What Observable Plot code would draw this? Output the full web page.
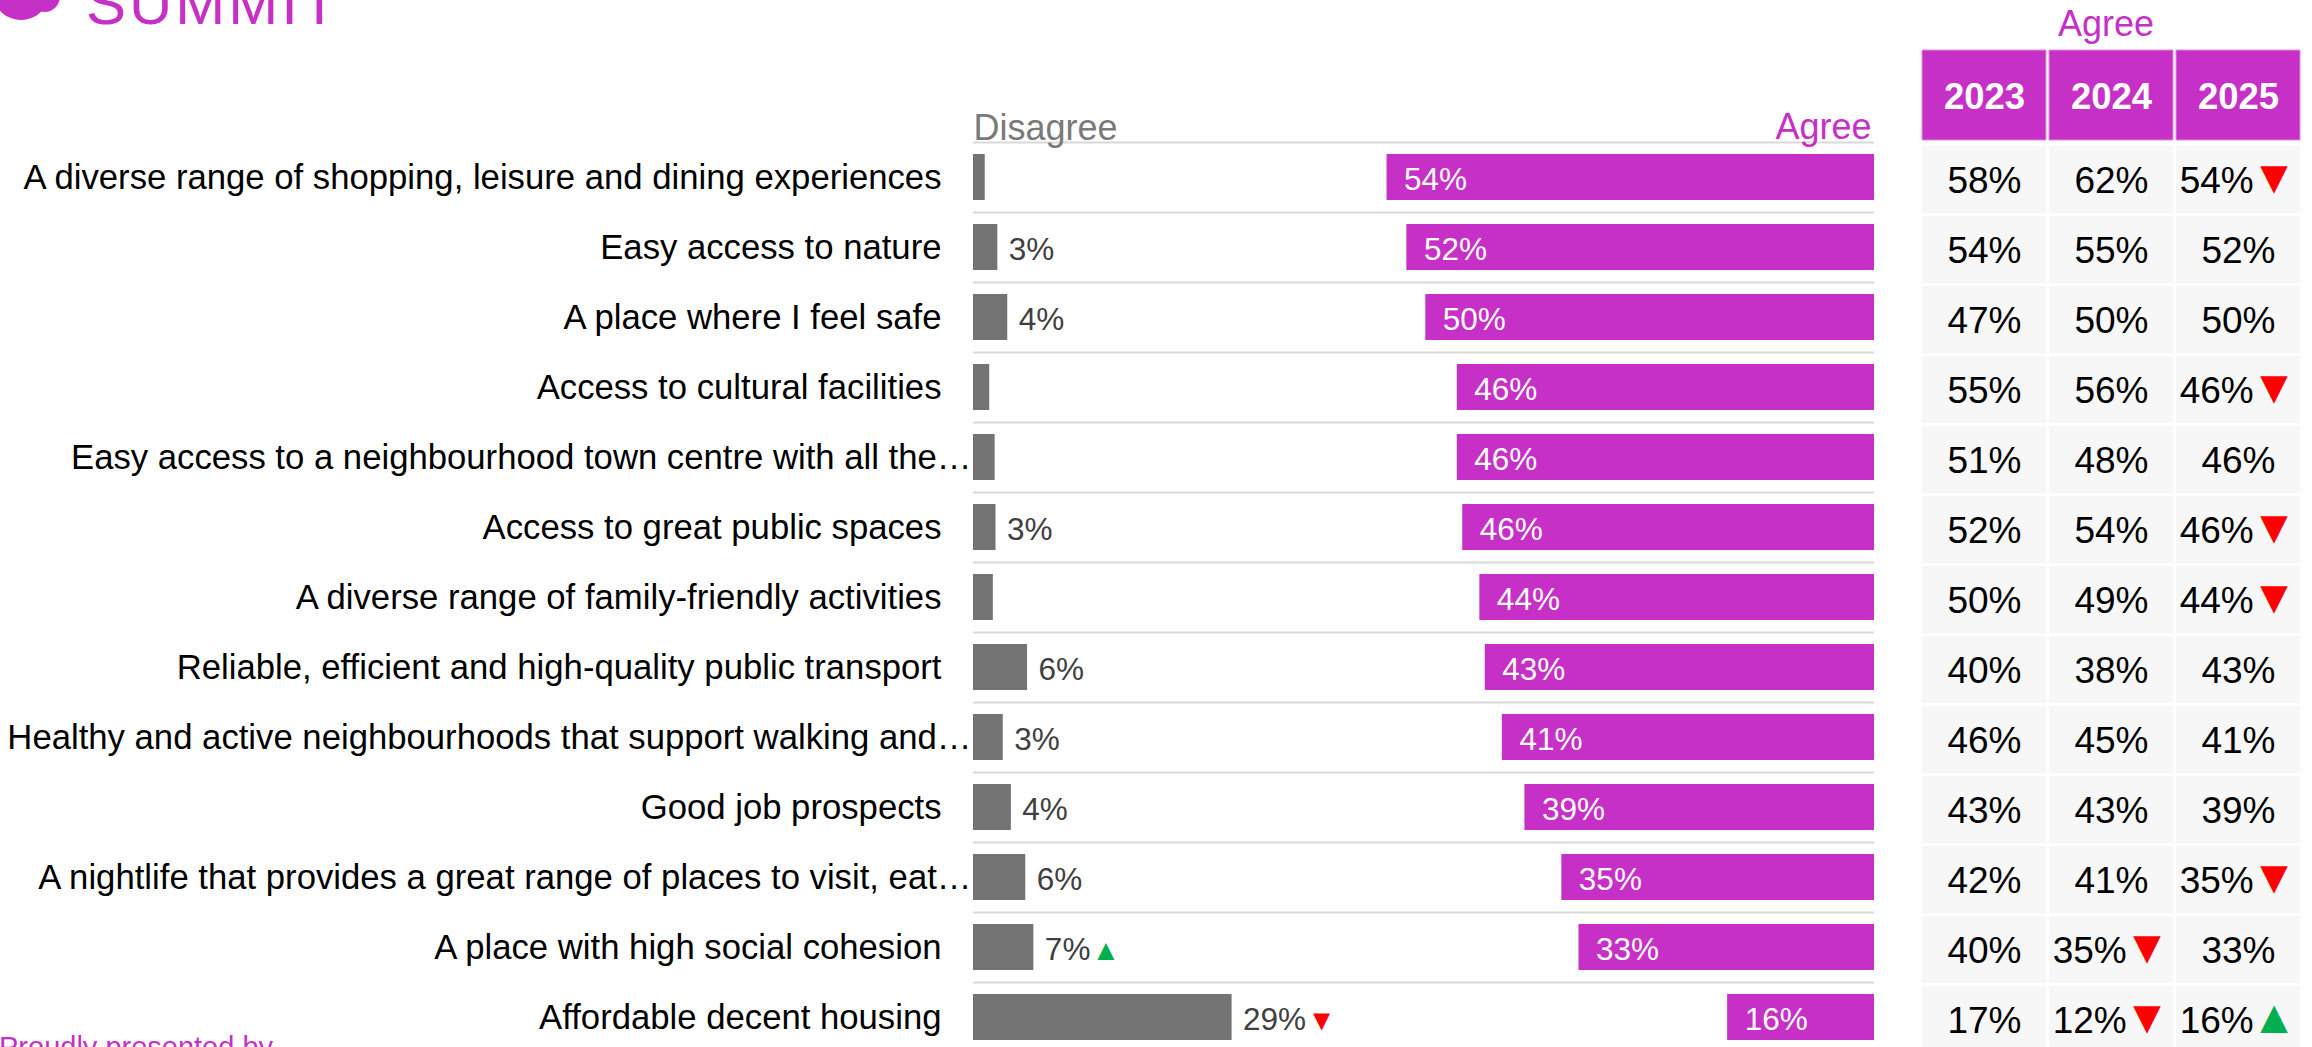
<!DOCTYPE html>
<html>
<head>
<meta charset="utf-8">
<script src="https://cdn.jsdelivr.net/npm/d3@7"></script>
<script src="https://cdn.jsdelivr.net/npm/@observablehq/plot@0.6"></script>
<style>
  html, body { margin: 0; padding: 0; background: #fff; overflow: hidden; }
  #wrap { position: relative; width: 2312px; height: 1047px; overflow: hidden; font-family: "Liberation Sans", Arial, sans-serif; }
  .abs { position: absolute; }
</style>
</head>
<body>
<div id="wrap"></div>
<script>
// ---------- data ----------
const categories = [
  "A diverse range of shopping, leisure and dining experiences",
  "Easy access to nature",
  "A place where I feel safe",
  "Access to cultural facilities",
  "Easy access to a neighbourhood town centre with all the…",
  "Access to great public spaces",
  "A diverse range of family-friendly activities",
  "Reliable, efficient and high-quality public transport",
  "Healthy and active neighbourhoods that support walking and…",
  "Good job prospects",
  "A nightlife that provides a great range of places to visit, eat…",
  "A place with high social cohesion",
  "Affordable decent housing"
];
const disagree = [1.3, 2.7, 3.8, 1.8, 2.4, 2.5, 2.2, 6.0, 3.3, 4.2, 5.8, 6.7, 28.7];
const agree    = [54.1, 51.9, 49.8, 46.3, 46.3, 45.7, 43.8, 43.2, 41.3, 38.8, 34.7, 32.8, 16.3];
const disagreeChange = [null, null, null, null, null, null, null, null, null, null, null, "up", "down"];

const years = ["2023", "2024", "2025"];
const agree2023 = [58, 54, 47, 55, 51, 52, 50, 40, 46, 43, 42, 40, 17];
const agree2024 = [62, 55, 50, 56, 48, 54, 49, 38, 45, 43, 41, 35, 12];
const agree2025 = [54, 52, 50, 46, 46, 46, 44, 43, 41, 39, 35, 33, 16];
const change2023 = [null, null, null, null, null, null, null, null, null, null, null, null, null];
const change2024 = [null, null, null, null, null, null, null, null, null, null, null, "down", "down"];
const change2025 = ["down", null, null, "down", null, "down", "down", null, null, null, "down", null, "up"];

// ---------- styling ----------
const PINK = "#C630C6";
const GRAY = "#737373";
const FONT = '"Liberation Sans", Arial, sans-serif';
const ARROW = {up: "▲", down: "▼"};

const rows = categories.map((c, i) => ({category: c, disagree: disagree[i], agree: agree[i], change: disagreeChange[i]}));
const fullLabels = categories.filter(c => !c.endsWith("…"));
const cutLabels = categories.filter(c => c.endsWith("…"));

const tableRows = [];
[agree2023, agree2024, agree2025].forEach((vals, j) => {
  const ch = [change2023, change2024, change2025][j];
  categories.forEach((c, i) => tableRows.push({year: years[j], category: c, value: vals[i], change: ch[i]}));
});

// colour the trend arrows (last char of a label) as a separate tspan
function colourArrows(svg, size, gap) {
  svg.querySelectorAll("text").forEach(t => {
    if (t.querySelector("tspan")) return;
    const s = t.textContent;
    const m = s.match(/^(.*?)([▲▼])$/);
    if (!m) return;
    t.textContent = m[1];
    const ts = document.createElementNS("http://www.w3.org/2000/svg", "tspan");
    ts.textContent = m[2];
    ts.setAttribute("fill", m[2] === "▲" ? "#00B050" : "#FF0000");
    ts.setAttribute("font-size", size);
    ts.setAttribute("dx", gap);
    t.appendChild(ts);
  });
}

// ---------- main diverging chart ----------
const chart = Plot.plot({
  width: 1900, height: 1047,
  marginLeft: 973, marginRight: 26, marginTop: 142, marginBottom: 0,
  style: {fontFamily: FONT, background: "transparent"},
  x: {domain: [0, 100], axis: null},
  y: {domain: categories, range: [142, 1052], paddingInner: 0.343, paddingOuter: 0.1715, align: 0.5},
  marks: [
    Plot.gridY({stroke: "#d9d9d9", strokeOpacity: 1, strokeWidth: 2, dy: -35}),
    Plot.barX(rows, {x1: 0, x2: "disagree", y: "category", fill: GRAY}),
    Plot.barX(rows, {x1: d => 100 - d.agree, x2: 100, y: "category", fill: PINK}),
    Plot.text(rows.filter(d => Math.round(d.disagree) >= 3), {
      x: "disagree", y: "category",
      text: d => Math.round(d.disagree) + "%" + (d.change ? ARROW[d.change] : ""),
      textAnchor: "start", dx: 11, dy: 2, fontSize: 31.5, fill: "#404040"
    }),
    Plot.text(rows, {
      x: d => 100 - d.agree, y: "category", text: d => Math.round(d.agree) + "%",
      textAnchor: "start", dx: 17, dy: 2, fontSize: 31.5, fill: "white"
    }),
    Plot.axisY(fullLabels, {tickSize: 0, tickPadding: 32, fontSize: 34.7, label: null}),
    Plot.axisY(cutLabels, {tickSize: 0, tickPadding: 2, fontSize: 34.7, label: null}),
    Plot.text(["Disagree"], {text: d => d, frameAnchor: "top-left", textAnchor: "start", lineAnchor: "middle", dy: -14, fontSize: 36, fill: "#7a7a7a"}),
    Plot.text(["Agree"], {text: d => d, frameAnchor: "top-right", textAnchor: "end", lineAnchor: "middle", dx: -3, dy: -15, fontSize: 36, fill: PINK})
  ]
});
colourArrows(chart, 29, 1);

// ---------- table header ----------
const header = Plot.plot({
  width: 412, height: 143,
  marginLeft: 21, marginRight: 10, marginTop: 50, marginBottom: 3,
  style: {fontFamily: FONT, background: "transparent"},
  x: {domain: years, range: [20.7, 401.7], paddingInner: 0.022, paddingOuter: 0, axis: null},
  marks: [
    Plot.cell(years, {x: d => d, fill: PINK, stroke: "#dd8fdd", strokeWidth: 1}),
    Plot.text(years, {x: d => d, text: d => d, fill: "white", fontWeight: "bold", fontSize: 36.5, dy: 2}),
    Plot.text(["Agree"], {text: d => d, frameAnchor: "top", lineAnchor: "middle", dx: -6, dy: -26.5, fontSize: 36, fill: PINK})
  ]
});

// ---------- table body ----------
const body = Plot.plot({
  width: 412, height: 904,
  marginLeft: 21, marginRight: 10, marginTop: 0, marginBottom: 0,
  style: {fontFamily: FONT, background: "transparent"},
  x: {domain: years, range: [20.7, 401.7], paddingInner: 0.022, paddingOuter: 0, axis: null},
  y: {domain: categories, range: [1.5, 911.5], paddingInner: 0.0429, paddingOuter: 0.02145, axis: null},
  marks: [
    Plot.cell(tableRows, {x: "year", y: "category", fill: "#f7f7f7"}),
    Plot.text(tableRows, {
      x: "year", y: "category",
      text: d => d.value + "%" + (d.change ? ARROW[d.change] : ""),
      fontSize: 37, dy: 1, fill: "#000"
    })
  ]
});
colourArrows(body, 47, -3);

// ---------- layout ----------
const wrap = document.getElementById("wrap");
function place(node, left, top) {
  const d = document.createElement("div");
  d.className = "abs";
  d.style.left = left + "px";
  d.style.top = top + "px";
  d.appendChild(node);
  wrap.appendChild(d);
}
place(chart, 0, 0);
place(header, 1900, 0);
place(body, 1900, 143);

// logo remnants (cut off at the top) and footer (cut off at the bottom)
const blob1 = document.createElement("div");
blob1.className = "abs";
Object.assign(blob1.style, {left: "-6px", top: "-30px", width: "54px", height: "50px", borderRadius: "50%", background: PINK});
wrap.appendChild(blob1);
const blob2 = document.createElement("div");
blob2.className = "abs";
Object.assign(blob2.style, {left: "30px", top: "-20px", width: "30px", height: "32px", borderRadius: "50%", background: PINK});
wrap.appendChild(blob2);
const logo = document.createElement("div");
logo.className = "abs";
Object.assign(logo.style, {left: "86px", top: "-26px", fontSize: "60px", lineHeight: "60px", color: PINK, fontFamily: FONT, letterSpacing: "3px"});
logo.textContent = "SUMMIT";
wrap.appendChild(logo);
const foot = document.createElement("div");
foot.className = "abs";
Object.assign(foot.style, {left: "-1px", top: "1033px", fontSize: "29px", lineHeight: "29px", color: PINK, fontFamily: FONT, whiteSpace: "nowrap"});
foot.textContent = "Proudly presented by";
wrap.appendChild(foot);
</script>
</body>
</html>
